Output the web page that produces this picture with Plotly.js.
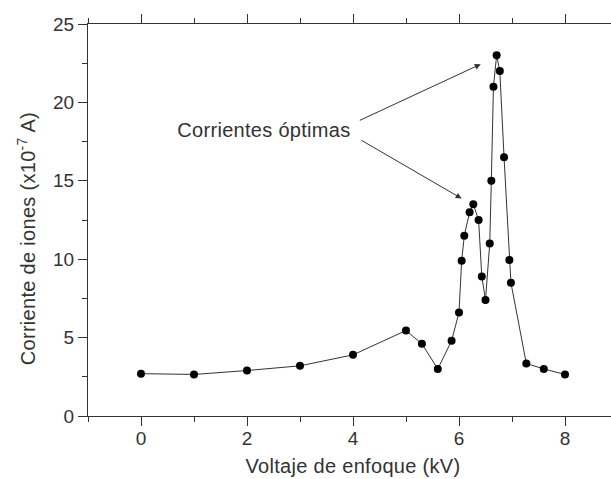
<!DOCTYPE html>
<html>
<head>
<meta charset="utf-8">
<script src="https://cdn.plot.ly/plotly-3.0.1.min.js"></script>
<style>
  html, body { margin: 0; padding: 0; overflow: hidden; background: #fff; }
  #chart { width: 620px; height: 479px; }
  #chart .annotation-text { letter-spacing: 0.3px; }
</style>
</head>
<body>
<div id="chart"></div>
<script>
// Focusing voltage (kV) and measured ion current (x10^-7 A)
const voltage = [0, 1, 2, 3, 4, 5, 5.3, 5.6, 5.86, 6.0, 6.05, 6.1, 6.2, 6.27, 6.37, 6.43, 6.5,
                 6.58, 6.61, 6.65, 6.71, 6.77, 6.85, 6.95, 6.98, 7.27, 7.6, 8.0];
const current = [2.7, 2.65, 2.9, 3.2, 3.9, 5.45, 4.6, 3.0, 4.8, 6.6, 9.9, 11.5, 13.0, 13.5, 12.5, 8.9, 7.4,
                 11.0, 15.0, 21.0, 23.0, 22.0, 16.5, 9.95, 8.5, 3.35, 3.0, 2.65];

const xTickVals = [0, 2, 4, 6, 8];
const yTickVals = [0, 5, 10, 15, 20, 25];

const xTitle = "Voltaje de enfoque (kV)";
const yTitle = "Corriente de iones (x10<sup>-7</sup> A)";
const noteText = "Corrientes óptimas";

const FONT = "Liberation Sans, Arial, sans-serif";
const INK = "#333";

const trace = {
  x: voltage,
  y: current,
  type: "scatter",
  mode: "lines+markers",
  line: { color: "#333", width: 1 },
  marker: { color: "#000", size: 8 },
  cliponaxis: false
};

const axisCommon = {
  showgrid: false,
  zeroline: false,
  showline: true,
  linecolor: INK,
  linewidth: 1,
  mirror: "ticks",
  ticks: "outside",
  tickcolor: INK,
  tickwidth: 1,
  ticklen: 9,
  tickfont: { family: FONT, size: 19, color: INK },
  tickmode: "array"
};

const layout = {
  width: 620,
  height: 479,
  margin: { l: 88, r: 2, t: 24, b: 63 },
  paper_bgcolor: "#fff",
  plot_bgcolor: "#fff",
  showlegend: false,
  xaxis: Object.assign({}, axisCommon, {
    range: [-1, 9],
    tickvals: xTickVals,
    ticktext: xTickVals.map(String),
    ticklabelstandoff: -4,
    minor: { tickmode: "linear", tick0: 1, dtick: 2, ticks: "outside", ticklen: 5, tickcolor: INK }
  }),
  yaxis: Object.assign({}, axisCommon, {
    range: [0, 25],
    tickvals: yTickVals,
    ticktext: yTickVals.map(String),
    minor: { tickmode: "linear", tick0: 2.5, dtick: 5, ticks: "outside", ticklen: 5, tickcolor: INK }
  }),
  annotations: [
    {
      text: xTitle, xref: "paper", yref: "paper", x: 0.5, y: 0,
      xanchor: "center", yanchor: "middle", yshift: -50, showarrow: false,
      font: { family: FONT, size: 20, color: INK }
    },
    {
      text: yTitle, xref: "paper", yref: "paper", x: 0, y: 0.4515,
      xanchor: "center", yanchor: "middle", xshift: -62, textangle: -90, showarrow: false,
      font: { family: FONT, size: 20, color: INK }
    },
    {
      text: noteText, xref: "x", yref: "y", x: 2.32, y: 18.23,
      xanchor: "center", yanchor: "middle", showarrow: false,
      font: { family: FONT, size: 20, color: INK }
    },
    {
      text: "", xref: "x", yref: "y", x: 6.41, y: 22.44,
      axref: "x", ayref: "y", ax: 4.10, ay: 18.81,
      showarrow: true, arrowhead: 2, arrowsize: 1.2, arrowwidth: 1, arrowcolor: INK, standoff: 0
    },
    {
      text: "", xref: "x", yref: "y", x: 6.05, y: 13.87,
      axref: "x", ayref: "y", ax: 4.13, ay: 17.64,
      showarrow: true, arrowhead: 2, arrowsize: 1.2, arrowwidth: 1, arrowcolor: INK, standoff: 0
    }
  ]
};

Plotly.newPlot("chart", [trace], layout, { staticPlot: true, displayModeBar: false });
</script>
</body>
</html>
